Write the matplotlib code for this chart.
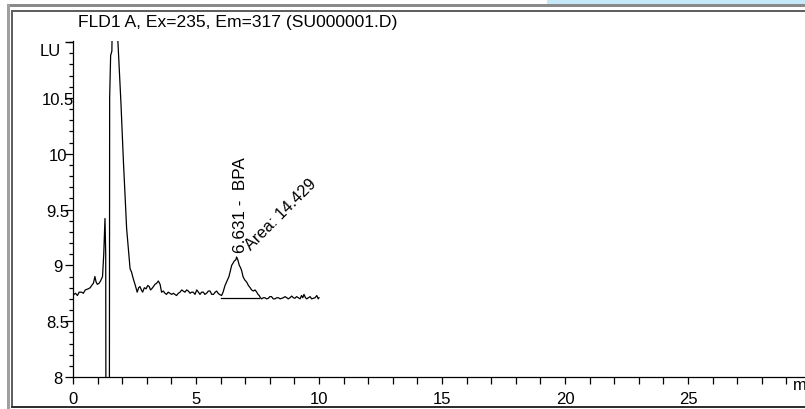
import matplotlib
matplotlib.use("Agg")
import matplotlib.pyplot as plt
from matplotlib.patches import Rectangle
from matplotlib.ticker import MultipleLocator

plt.rcParams['font.family'] = ['Liberation Sans', 'DejaVu Sans']

# ---- data ----
time_min = [0.00, 0.04, 0.10, 0.18, 0.25, 0.35, 0.42, 0.50, 0.62, 0.70, 0.76, 0.83, 0.89, 0.94,
            0.99, 1.06, 1.12, 1.20, 1.25, 1.30, 1.33, 1.345, 1.475, 1.49, 1.53, 1.58, 1.62,
            1.70, 1.78, 1.82, 1.95, 2.05, 2.18, 2.32, 2.38, 2.45, 2.52, 2.61, 2.67, 2.72, 2.78,
            2.83, 2.90, 2.97, 3.04, 3.10, 3.15, 3.20, 3.27, 3.33, 3.40, 3.47, 3.54, 3.60, 3.67,
            3.74, 3.80, 3.87, 3.94, 4.01, 4.08, 4.14, 4.21, 4.28, 4.35, 4.42, 4.48, 4.55, 4.62,
            4.69, 4.76, 4.82, 4.89, 4.96, 5.03, 5.10, 5.16, 5.23, 5.30, 5.36, 5.43, 5.50, 5.57,
            5.64, 5.71, 5.78, 5.84, 5.90, 5.95, 6.04, 6.10, 6.18, 6.26, 6.34, 6.45, 6.56, 6.62,
            6.65, 6.70, 6.76, 6.81, 6.86, 6.91, 6.98, 7.06, 7.13, 7.20, 7.26, 7.33, 7.40, 7.47,
            7.52, 7.57, 7.62, 7.67, 7.74, 7.80, 7.87, 7.94, 8.00, 8.07, 8.14, 8.21, 8.28, 8.35,
            8.42, 8.48, 8.55, 8.62, 8.69, 8.75, 8.82, 8.89, 8.96, 9.02, 9.09, 9.16, 9.23, 9.29,
            9.34, 9.39, 9.45, 9.50, 9.57, 9.64, 9.70, 9.77, 9.84, 9.91, 9.97, 10.00]
signal_lu = [8.73, 8.74, 8.75, 8.73, 8.76, 8.76, 8.75, 8.78, 8.79, 8.80, 8.82, 8.84, 8.90, 8.85,
             8.83, 8.84, 8.86, 8.90, 9.10, 9.42, 9.10, 6.50, 6.50, 10.50, 10.88, 10.92, 11.50,
             12.50, 11.60, 11.03, 10.45, 9.93, 9.33, 8.97, 8.94, 8.88, 8.83, 8.76, 8.80, 8.81, 8.78,
             8.76, 8.80, 8.79, 8.82, 8.81, 8.78, 8.79, 8.81, 8.83, 8.84, 8.86, 8.83, 8.76, 8.77,
             8.75, 8.74, 8.76, 8.75, 8.74, 8.75, 8.74, 8.73, 8.75, 8.76, 8.78, 8.77, 8.76, 8.78,
             8.77, 8.75, 8.76, 8.76, 8.74, 8.78, 8.76, 8.74, 8.76, 8.76, 8.74, 8.75, 8.77, 8.77,
             8.74, 8.74, 8.76, 8.77, 8.75, 8.74, 8.73, 8.76, 8.82, 8.86, 8.90, 9.00, 9.04, 9.05,
             9.075, 9.05, 9.00, 8.98, 8.95, 8.90, 8.87, 8.85, 8.82, 8.80, 8.78, 8.77, 8.78, 8.76,
             8.74, 8.73, 8.71, 8.70, 8.71, 8.71, 8.70, 8.705, 8.72, 8.72, 8.70, 8.70, 8.71, 8.71,
             8.70, 8.705, 8.71, 8.72, 8.71, 8.70, 8.71, 8.725, 8.71, 8.705, 8.72, 8.71, 8.70, 8.73,
             8.71, 8.74, 8.71, 8.70, 8.71, 8.72, 8.70, 8.705, 8.71, 8.73, 8.70, 8.71]

baseline_t = [6.00, 7.57]
baseline_v = [8.71, 8.71]

peak_rt = 6.631
peak_name = "BPA"
peak_area = 14.429

title_text = "FLD1 A, Ex=235, Em=317 (SU000001.D)"
y_ticks = [8, 8.5, 9, 9.5, 10, 10.5]
y_ticklabels = ["8", "8.5", "9", "9.5", "10", "10.5"]
x_ticks = [0, 5, 10, 15, 20, 25]
x_ticklabels = ["0", "5", "10", "15", "20", "25"]

# ---- figure ----
W, H = 805, 410
fig = plt.figure(figsize=(W / 100, H / 100), dpi=100)
fig.patch.set_facecolor("white")


def px(x, y):
    return x / W, 1 - y / H


def rect(x0, y0, x1, y1, color):
    fx0, fy1 = px(x0, y0)
    fx1, fy0 = px(x1, y1)
    fig.add_artist(Rectangle((fx0, fy0), fx1 - fx0, fy1 - fy0, transform=fig.transFigure,
                             facecolor=color, edgecolor="none", zorder=0))


# window frame
rect(547, 0, 805, 5, "#c6e9f9")
rect(7, 5, 805, 7.5, "#8a8a8a")
rect(7, 5, 9.5, 410, "#a0a0a0")
rect(11, 11, 805, 12.5, "#606060")
rect(11, 11, 12.5, 408.5, "#606060")
rect(11, 407, 805, 408.5, "#303030")

ax_left, ax_bottom, ax_top = 73, 378, 42
ax = fig.add_axes([ax_left / W, 1 - ax_bottom / H, (W - ax_left) / W, (ax_bottom - ax_top) / H])
ax.set_facecolor("none")
ax.set_xlim(0, (W - ax_left) / 24.6)
ax.set_ylim(8, 11.01)

ax.plot(time_min, signal_lu, color="black", lw=0.9)
ax.plot(baseline_t, baseline_v, color="black", lw=0.9)

for s in ["top", "right"]:
    ax.spines[s].set_visible(False)
for s in ["left", "bottom"]:
    ax.spines[s].set_linewidth(0.9)

ax.set_xticks(x_ticks)
ax.set_xticklabels(x_ticklabels, fontsize=12)
ax.xaxis.set_minor_locator(MultipleLocator(1))
ax.set_yticks(y_ticks)
ax.set_yticklabels(y_ticklabels, fontsize=12)
ax.yaxis.set_minor_locator(MultipleLocator(0.1))
ax.tick_params(axis="x", which="both", direction="out", length=5, width=0.9, pad=5)
ax.tick_params(axis="y", which="major", direction="out", length=6, width=0.9, pad=5)
ax.tick_params(axis="y", which="minor", direction="out", length=3, width=0.9)
for lab in ax.get_yticklabels():
    lab.set_horizontalalignment("center")

# top tick and unit label
ax.plot([0], [11.0], marker=0, markersize=6, color="black", clip_on=False)
ax.text(50 / W, 1 - 51 / H, "LU", transform=fig.transFigure, ha="center", va="center", fontsize=12)

# x unit (cut off by the window edge, as in the original)
ax.text(29.27, 0.0, "min", transform=ax.get_xaxis_transform(), ha="left", va="top",
        fontsize=12, clip_on=False)

# title
fig.text(78 / W, 1 - 22 / H, title_text, ha="left", va="center", fontsize=12.6)

# peak annotations
ax.text(6.79, 9.12, f"{peak_rt:.3f} -  {peak_name}", rotation=90, ha="center", va="bottom",
        fontsize=12.3)
ax.text(6.91, 9.12, f"Area: {peak_area}", rotation=45, ha="left", va="bottom", fontsize=11.7)

fig.savefig("out.png", dpi=100)
